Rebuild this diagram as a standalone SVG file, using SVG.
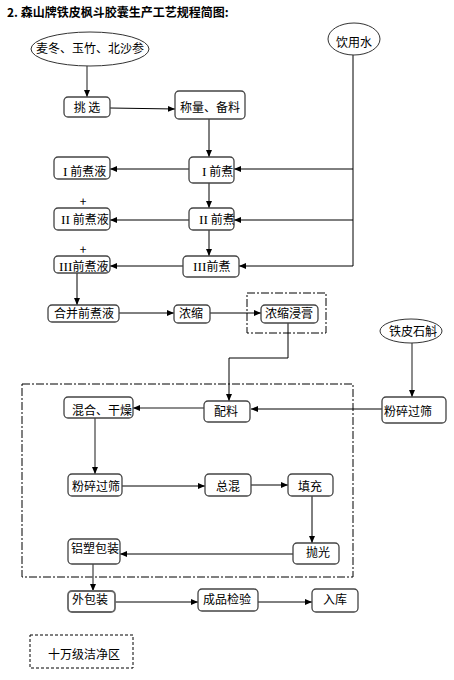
<svg xmlns="http://www.w3.org/2000/svg" width="454" height="680" viewBox="0 0 454 680">
<style>
text{font-family:"Noto Sans CJK SC","Liberation Sans",sans-serif;font-size:12px;fill:#000;}
.t{text-anchor:middle;}
.b{fill:#fff;stroke:#444;stroke-width:1.3;}
.e{fill:#fff;stroke:#333;stroke-width:1;}
.c{fill:none;stroke:#000;stroke-width:1;}
.g{fill:none;stroke:#666;stroke-width:1.5;}
.dd{fill:none;stroke:#000;stroke-width:1;stroke-dasharray:8 2 2 2;}
.d{fill:none;stroke:#000;stroke-width:1;stroke-dasharray:3 2;}
.r{font-family:"Liberation Serif",serif;font-size:13.5px;}
.title{font-weight:bold;font-size:12px;}
</style>
<defs>
<marker id="a" markerUnits="userSpaceOnUse" markerWidth="8" markerHeight="8" viewBox="0 0 8 8" refX="7" refY="4" orient="auto">
<path d="M0,1 L7,4 L0,7 Z" fill="#000"/>
</marker>
</defs>
<rect width="454" height="680" fill="#fff"/>
<text class="title" x="7" y="17">2. 森山牌铁皮枫斗胶囊生产工艺规程简图:</text>

<g id="zones">
<rect class="dd" x="247" y="293" width="79" height="40"/>
<rect class="dd" x="22" y="384" width="331" height="193"/>
</g>

<g id="connectors">
<path class="g" d="M87 66 V97" marker-end="url(#a)"/>
<path class="c" d="M110 108 L175 109" marker-end="url(#a)"/>
<path class="c" d="M209 119 V157" marker-end="url(#a)"/>
<path class="c" d="M353 55 V266"/>
<path class="c" d="M353 169 H234" marker-end="url(#a)"/>
<path class="c" d="M353 220 H234" marker-end="url(#a)"/>
<path class="c" d="M353 266 H239" marker-end="url(#a)"/>
<path class="c" d="M189 169 H110" marker-end="url(#a)"/>
<path class="c" d="M209 183 V208" marker-end="url(#a)"/>
<path class="c" d="M189 220 H110" marker-end="url(#a)"/>
<path class="c" d="M209 230 V256" marker-end="url(#a)"/>
<path class="c" d="M183 266 H110" marker-end="url(#a)"/>
<path class="c" d="M77 273 V305" marker-end="url(#a)"/>
<path class="c" d="M119 313 H174" marker-end="url(#a)"/>
<path class="c" d="M210 313 H261" marker-end="url(#a)"/>
<path class="c" d="M288 323 V358 H229 V401" marker-end="url(#a)"/>
<path class="g" d="M412 343 V397" marker-end="url(#a)"/>
<path class="c" d="M382 409 H251" marker-end="url(#a)"/>
<path class="g" d="M204 408 H133" marker-end="url(#a)"/>
<path class="g" d="M95 418 V474" marker-end="url(#a)"/>
<path class="c" d="M122 486 H205" marker-end="url(#a)"/>
<path class="c" d="M251 485 H288" marker-end="url(#a)"/>
<path class="c" d="M312 496 V543" marker-end="url(#a)"/>
<path class="c" d="M293 554 H120" marker-end="url(#a)"/>
<path class="g" d="M93 564 V591" marker-end="url(#a)"/>
<path class="c" d="M115 602 H198" marker-end="url(#a)"/>
<path class="c" d="M258 602 H312" marker-end="url(#a)"/>
</g>

<g id="n-maidong"><ellipse class="e" cx="90" cy="49" rx="59" ry="17"/><text class="t" x="90" y="53">麦冬、玉竹、北沙参</text></g>
<g id="n-water"><ellipse class="e" cx="354" cy="39" rx="26" ry="16"/><text class="t" x="354" y="47">饮用水</text></g>
<g id="n-tiaoxuan"><rect class="b" x="64" y="97" width="46" height="20" rx="4"/><text class="t" x="87" y="112">挑 选</text></g>
<g id="n-chengliang"><rect class="b" x="175" y="91" width="70" height="28" rx="4"/><text class="t" x="210" y="112">称量、备料</text></g>
<g id="n-ye1"><rect class="b" x="54" y="157" width="56" height="22" rx="4"/><text x="63" y="176"><tspan class="r">I</tspan> 前煮液</text></g>
<g id="n-zhu1"><rect class="b" x="189" y="157" width="45" height="26" rx="4"/><text x="202" y="176"><tspan class="r">I</tspan> 前煮</text></g>
<text class="t" x="83" y="206">+</text>
<g id="n-ye2"><rect class="b" x="54" y="208" width="56" height="22" rx="4"/><text x="61" y="224"><tspan class="r">II</tspan> 前煮液</text></g>
<g id="n-zhu2"><rect class="b" x="189" y="208" width="45" height="22" rx="4"/><text x="199" y="224"><tspan class="r">II</tspan> 前煮</text></g>
<text class="t" x="83" y="254">+</text>
<g id="n-ye3"><rect class="b" x="54" y="256" width="56" height="17" rx="4"/><text x="59" y="271"><tspan class="r">III</tspan>前煮液</text></g>
<g id="n-zhu3"><rect class="b" x="183" y="256" width="56" height="21" rx="4"/><text x="193" y="271"><tspan class="r">III</tspan>前煮</text></g>
<g id="n-hebing"><rect class="b" x="48" y="305" width="71" height="17" rx="4"/><text class="t" x="84" y="318">合并前煮液</text></g>
<g id="n-nongsuo"><rect class="b" x="174" y="305" width="36" height="18" rx="4"/><text class="t" x="191" y="318">浓缩</text></g>
<g id="n-jingao"><rect class="b" x="261" y="305" width="57" height="18" rx="4"/><text class="t" x="289" y="318">浓缩浸膏</text></g>
<g id="n-shihu"><ellipse class="e" cx="411" cy="331" rx="31" ry="12"/><text class="t" x="413" y="336">铁皮石斛</text></g>
<g id="n-fensui1"><rect class="b" x="382" y="397" width="64" height="26" rx="4"/><text class="t" x="408" y="416">粉碎过筛</text></g>
<g id="n-peiliao"><rect class="b" x="204" y="401" width="46" height="21" rx="4"/><text class="t" x="226" y="416">配料</text></g>
<g id="n-hunhe"><rect class="b" x="64" y="397" width="69" height="21" rx="4"/><text class="t" x="102" y="415">混合、干燥</text></g>
<g id="n-fensui2"><rect class="b" x="68" y="474" width="54" height="22" rx="4"/><text class="t" x="96" y="491">粉碎过筛</text></g>
<g id="n-zonghun"><rect class="b" x="205" y="474" width="46" height="22" rx="4"/><text class="t" x="228" y="491">总混</text></g>
<g id="n-tianchong"><rect class="b" x="288" y="474" width="45" height="22" rx="4"/><text class="t" x="310" y="491">填充</text></g>
<g id="n-paoguang"><rect class="b" x="293" y="543" width="46" height="21" rx="4"/><text class="t" x="318" y="557">抛光</text></g>
<g id="n-lvsu"><rect class="b" x="68" y="539" width="52" height="25" rx="4"/><text class="t" x="95" y="553">铝塑包装</text></g>
<g id="n-waibao"><rect class="b" x="68" y="591" width="47" height="21" rx="4" style="stroke:#666;stroke-width:1.8"/><text class="t" x="90" y="604">外包装</text></g>
<g id="n-jianyan"><rect class="b" x="198" y="589" width="60" height="22" rx="4"/><text class="t" x="227" y="604">成品检验</text></g>
<g id="n-ruku"><rect class="b" x="312" y="589" width="46" height="23" rx="4"/><text class="t" x="335" y="604">入库</text></g>
<g id="n-legend"><rect class="d" x="30" y="635" width="103" height="33"/><text class="t" x="84" y="659">十万级洁净区</text></g>
</svg>
